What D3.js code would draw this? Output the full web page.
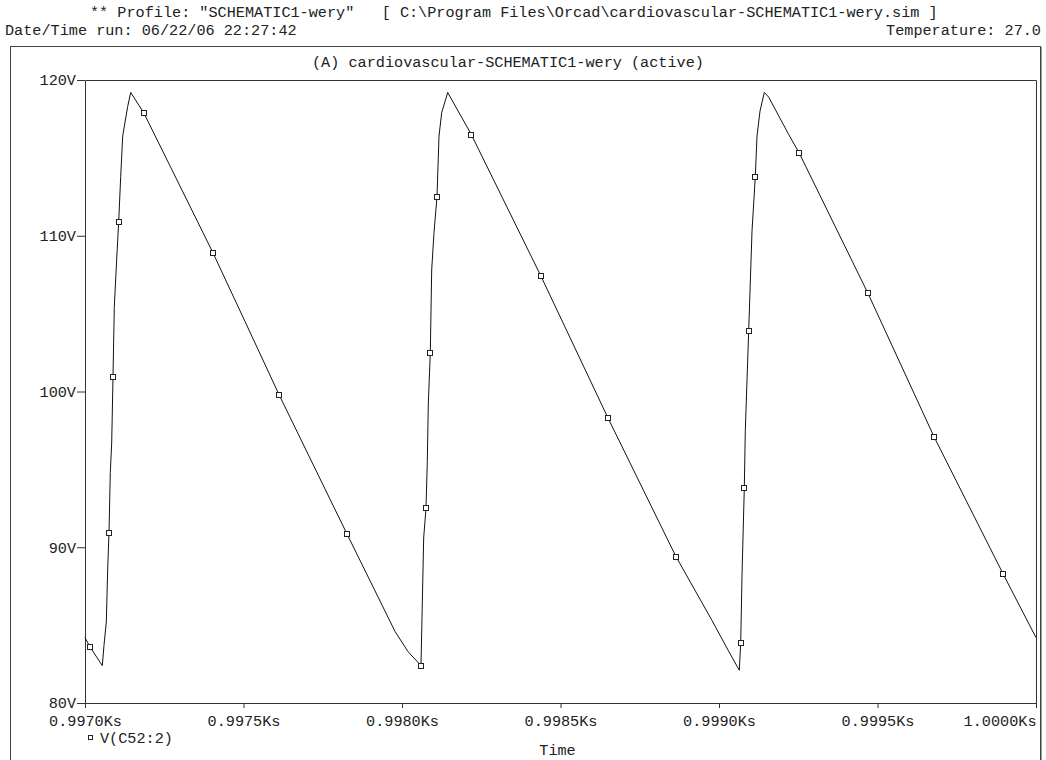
<!DOCTYPE html>
<html>
<head>
<meta charset="utf-8">
<script src="https://cdn.jsdelivr.net/npm/d3@7"></script>
<style>
html,body{margin:0;padding:0;background:#fff;}
#chart{display:block;font-family:"Liberation Mono","Courier New",monospace;font-size:15.2px;}
#chart text{white-space:pre;fill:#222;}
</style>
</head>
<body>
<svg id="chart" width="1046" height="760"></svg>
<script>
// PSpice probe — V(C52:2), trois cycles cardiaques (0.997 → 1.000 Ks)

var TIME_KS=[
  0.9970000,0.9970158,0.9970546,0.9970599,0.9970672,0.9970716,0.9970757,0.9970798,
  0.9970842,0.9970883,0.9970924,0.9971000,0.9971063,0.9971126,0.9971189,0.9971347,
  0.9971442,0.9971852,0.9974038,0.9975047,0.9976120,0.9978265,0.9979779,
  0.9980189,0.9980599,0.9980621,0.9980684,0.9980757,0.9980798,0.9980830,0.9980893,
  0.9980937,0.9981009,0.9981104,0.9981167,0.9981252,0.9981442,0.9982186,0.9982596,
  0.9984385,0.9986498,0.9988643,0.9989779,0.9990284,0.9990640,0.9990685,0.9990726,
  0.9990798,0.9990830,0.9990937,0.9991041,0.9991145,0.9991199,0.9991293,0.9991429,
  0.9991568,0.9991883,0.9992199,0.9992533,0.9994700,0.9996782,0.9998959,1.0000000
];
var VOLTS=[
  84.2,83.6,82.4,83.7,85.2,88.6,90.9,94.8,
  96.7,100.9,105.4,108.5,110.9,113.8,116.4,118.3,
  119.2,117.9,108.9,104.5,99.8,90.85,84.6,
  83.3,82.4,84.5,90.6,92.5,95.5,99.2,102.5,
  107.8,110.2,112.5,116.4,117.9,119.2,116.5,114.8,
  107.4,98.3,89.4,85.3,83.4,82.1,83.85,88.2,
  93.8,97.5,103.9,110.3,113.8,116.4,118.0,119.2,
  118.9,117.7,116.5,115.3,106.3,97.1,88.3,84.2
];
// indices des points portant le symbole carré
var MARKER_IDX=[1,6,9,12,17,18,20,21,24,27,30,33,37,39,40,41,45,47,49,51,58,59,60,61];

var X_TICKS=[0.9970,0.9975,0.9980,0.9985,0.9990,0.9995,1.0000];
var X_TICK_LABELS=["0.9970Ks","0.9975Ks","0.9980Ks","0.9985Ks","0.9990Ks","0.9995Ks","1.0000Ks"];
var Y_TICKS=[80,90,100,110,120];
var Y_TICK_LABELS=["80V","90V","100V","110V","120V"];

var TXT_PROFILE='** Profile: "SCHEMATIC1-wery"   [ C:\\Program Files\\Orcad\\cardiovascular-SCHEMATIC1-wery.sim ]';
var TXT_DATE="Date/Time run: 06/22/06 22:27:42";
var TXT_TEMP="Temperature: 27.0";
var TXT_TITLE="(A) cardiovascular-SCHEMATIC1-wery (active)";
var TXT_TRACE="V(C52:2)";
var TXT_XLABEL="Time";

// ── MISE EN PAGE ──────────────────────────────────────────────────────────
var PL=85,PR=1036,PT=80,PB=703;
var INK="#222";

var svg=d3.select("#chart");
var x=d3.scaleLinear().domain([0.997,1.0]).range([PL,PR]);
var y=d3.scaleLinear().domain([80,120]).range([PB,PT]);

// cadre extérieur (descend sous le bas de l'image)
svg.append("rect")
  .attr("x",10.5).attr("y",46.5).attr("width",1030).attr("height",760)
  .attr("fill","none").attr("stroke","#444");
svg.append("line")
  .attr("x1",1041.5).attr("x2",1041.5).attr("y1",47).attr("y2",760)
  .attr("stroke","#999");

// en-tête
svg.append("text").attr("x",90).attr("y",17).text(TXT_PROFILE);
svg.append("text").attr("x",5).attr("y",35).text(TXT_DATE);
svg.append("text").attr("x",1041).attr("y",35).attr("text-anchor","end").text(TXT_TEMP);
svg.append("text").attr("x",312).attr("y",67).text(TXT_TITLE);

// axes
var xAxis=d3.axisBottom(x)
  .tickValues(X_TICKS)
  .tickFormat(function(d,i){return X_TICK_LABELS[i];})
  .tickSizeInner(5).tickSizeOuter(0).tickPadding(7);
var yAxis=d3.axisLeft(y)
  .tickValues(Y_TICKS)
  .tickFormat(function(d,i){return Y_TICK_LABELS[i];})
  .tickSizeInner(8).tickSizeOuter(0).tickPadding(1);

var gx=svg.append("g").attr("transform","translate(0,"+PB+")").call(xAxis);
var gy=svg.append("g").attr("transform","translate("+PL+",0)").call(yAxis);
[gx,gy].forEach(function(g){
  g.attr("font-size",null).attr("font-family",null);
  g.selectAll("path,line").attr("stroke","#333");
});
// dernière étiquette calée à droite, comme dans PSpice
gx.selectAll(".tick text")
  .filter(function(d,i){return i===X_TICKS.length-1;})
  .attr("text-anchor","end");

// bord haut et droit du graphe
svg.append("path")
  .attr("d","M"+(PL+0.5)+","+(PT+0.5)+"H"+(PR+0.5)+"V"+(PB+0.5))
  .attr("fill","none").attr("stroke","#333");

// ── TRACE ─────────────────────────────────────────────────────────────────
var pts=TIME_KS.map(function(t,i){return [t,VOLTS[i]];});
var line=d3.line().x(function(d){return x(d[0]);}).y(function(d){return y(d[1]);});

svg.append("path")
  .datum(pts)
  .attr("d",line)
  .attr("fill","none").attr("stroke","#111").attr("stroke-width",1);

svg.append("g").selectAll("rect")
  .data(MARKER_IDX.map(function(i){return pts[i];}))
  .enter().append("rect")
  .attr("x",function(d){return Math.round(x(d[0]))-2.5;})
  .attr("y",function(d){return Math.round(y(d[1]))-2.5;})
  .attr("width",5).attr("height",5)
  .attr("fill","#fff").attr("stroke",INK);

// légende + titre d'axe
svg.append("rect")
  .attr("x",88.5).attr("y",735.5).attr("width",4).attr("height",4)
  .attr("fill","#fff").attr("stroke",INK);
svg.append("text").attr("x",100).attr("y",743).text(TXT_TRACE);
svg.append("text").attr("x",(PL+PR)/2-3).attr("y",755).attr("text-anchor","middle").text(TXT_XLABEL);
</script>
</body>
</html>
